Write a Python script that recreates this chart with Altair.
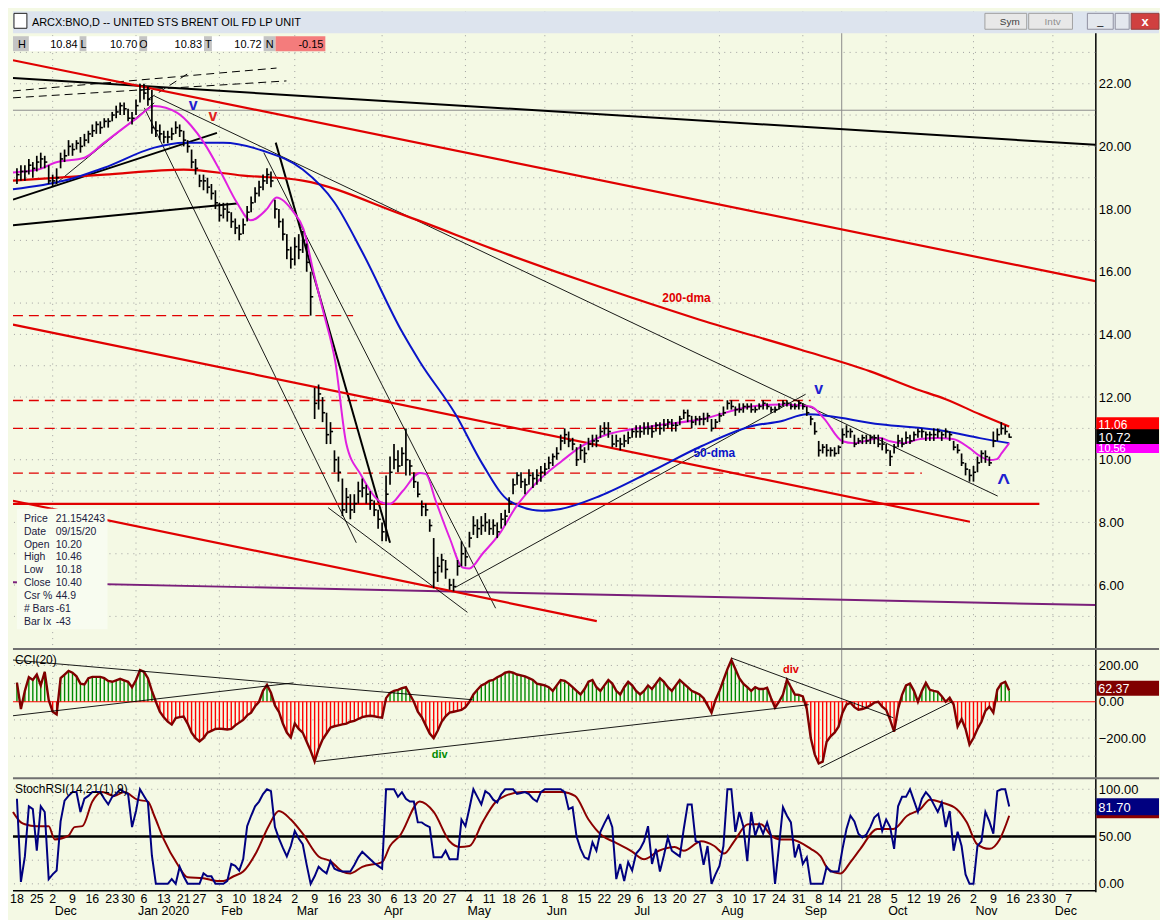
import altair as alt
import pandas as pd

FONT = "Liberation Sans"
BG = "#f4f9e4"
W = 1088
HP, HC, HS = 640, 130, 115

# trading-day index 0 = 2019-11-18 (holidays skipped)
week_labels = ["18","25","2","9","16","23","30","6","13","21","27","3","10","18","24","2","9","16","23","30",
               "6","13","20","27","4","11","18","26","1","8","15","22","29","6","13","20","27","3","10","17",
               "24","31","8","14","21","28","5","12","19","26","2","9","16","23","30","7"]
week_idx = [0,5,9,14,19,24,28,32,37,42,46,51,56,61,65,70,75,80,85,90,95,99,104,109,114,119,124,129,133,138,
            143,148,153,157,162,167,172,177,182,187,192,197,202,206,211,216,221,226,231,236,241,246,251,256,260,265]
month_labels = ["Dec","Jan 2020","Feb","Mar","Apr","May","Jun","Jul","Aug","Sep","Oct","Nov","Dec"]
month_idx = [9,30,51,70,92,113,133,155,177,198,219,241,261]

close = [
 19.1,19.2,19.2,19.4,19.3, 19.5,19.6,19.5,18.9, 18.9,19.0,19.6,19.7,20.0, 19.9,20.1,20.0,20.2,20.4,
 20.5,20.7,20.6,20.8,20.8, 21.0,21.1,21.3,21.2, 20.9,20.9,21.3,21.8, 21.7,21.5,20.6,20.5,20.4,
 20.3,20.3,20.4,20.6,20.5, 20.2,20.0,19.5,19.3, 18.9,18.9,18.7,18.5,18.2, 17.8,18.0,17.9,17.6,17.4,
 17.2,17.5,17.9,18.2,18.5, 18.7,18.9,19.1,18.9, 18.0,17.6,17.2,16.7,16.4, 16.8,16.7,17.0,16.3,15.2,
 11.8,12.1,11.5,10.8,10.9, 10.0,9.6,8.4,8.8,8.4, 8.6,9.0,9.1,8.9,8.7, 8.4,8.1,7.7,8.9,9.6,
 10.0,9.8,10.2,10.0, 9.8,9.3,8.9,8.5,8.4, 7.9,6.4,6.6,6.8,6.5, 6.0,5.95,6.6,7.0,6.9,
 7.5,7.9,7.8,7.9,8.0, 7.8,7.9,7.7,8.1,8.2, 8.6,9.2,9.5,9.3,9.2, 9.5,9.4,9.5,9.6,
 9.7,9.9,10.1,10.2,10.6, 10.8,10.6,10.5,10.0,10.3, 10.2,10.5,10.6,10.6,10.9, 11.0,10.9,10.5,10.6,10.5,
 10.6,10.7,10.9,10.9, 10.9,11.0,11.0,10.9,11.1, 11.0,11.1,11.2,11.1,11.1, 11.3,11.5,11.4,11.2,11.3,
 11.3,11.3,11.4,11.0,11.2, 11.4,11.5,11.8,11.7,11.6, 11.6,11.7,11.7,11.6,11.6, 11.7,11.8,11.7,11.6,11.6,
 11.7,11.8,11.8,11.7,11.7, 11.8,11.7,11.5,11.3,10.9, 10.3,10.4,10.3,10.3, 10.2,10.4,10.8,10.9,10.9,
 10.5,10.6,10.7,10.6,10.7, 10.7,10.5,10.5,10.3,10.1, 10.4,10.6,10.5,10.7,10.6, 10.8,10.9,10.9,10.8,10.8,
 10.8,10.9,10.8,10.9,10.8, 10.4,10.3,9.9,9.7,9.5, 9.6,9.9,10.2,10.1,9.9, 10.6,10.8,11.0,10.9,10.72,
]
high = [
 19.3,19.4,19.4,19.6,19.5, 19.7,19.8,19.7,19.4, 19.1,19.3,19.8,19.9,20.2, 20.1,20.2,20.3,20.4,20.5,
 20.7,20.8,20.8,20.9,20.9, 21.1,21.3,21.4,21.4, 21.2,21.1,21.5,22.0, 22.0,21.9,21.8,20.8,20.7,
 20.5,20.5,20.6,20.8,20.7, 20.5,20.2,19.9,19.6, 19.1,19.1,19.0,18.8,18.6, 18.2,18.2,18.2,17.9,17.7,
 17.5,17.7,18.1,18.4,18.7, 18.9,19.1,19.3,19.2, 18.3,18.0,17.7,17.2,16.8, 17.1,17.2,17.3,16.9,16.0,
 12.3,12.4,12.0,11.5,11.2, 10.3,10.1,9.4,9.1,8.9, 8.9,9.3,9.4,9.2,9.0, 8.7,8.4,8.0,9.5,10.1,
 10.5,10.3,10.4,11.0, 10.0,9.6,9.3,8.7,8.6, 8.1,7.5,6.9,7.0,6.8, 6.2,6.2,6.8,7.4,7.2,
 7.7,8.2,8.1,8.2,8.3, 8.1,8.1,8.0,8.3,8.4, 8.8,9.4,9.6,9.6,9.4, 9.7,9.6,9.7,9.8,
 9.9,10.1,10.2,10.4,10.8, 11.0,10.9,10.7,10.4,10.5, 10.4,10.7,10.8,10.8,11.1, 11.2,11.2,10.8,10.8,10.7,
 10.8,10.9,11.0,11.1, 11.1,11.2,11.2,11.1,11.2, 11.2,11.3,11.3,11.3,11.2, 11.4,11.6,11.6,11.4,11.4,
 11.4,11.5,11.5,11.3,11.3, 11.5,11.7,11.9,11.9,11.7, 11.8,11.8,11.8,11.8,11.7, 11.8,11.9,11.8,11.7,11.7,
 11.8,11.9,11.9,11.8,11.8, 11.9,11.8,11.7,11.4,11.2, 10.6,10.5,10.5,10.4, 10.4,10.46,11.0,11.1,11.0,
 10.8,10.7,10.8,10.8,10.8, 10.8,10.8,10.7,10.5,10.3, 10.5,10.8,10.7,10.9,10.8, 10.9,11.0,11.0,10.9,10.9,
 11.0,11.0,10.9,11.0,10.9, 10.6,10.5,10.2,9.9,9.7, 9.8,10.1,10.3,10.3,10.1, 10.9,11.0,11.2,11.1,10.84,
]
low = [
 18.8,18.9,18.9,19.1,19.0, 19.2,19.3,19.3,18.8, 18.7,18.8,19.3,19.5,19.7, 19.7,19.9,19.8,20.0,20.1,
 20.3,20.4,20.4,20.6,20.6, 20.8,20.9,21.0,21.0, 20.8,20.7,21.0,21.4, 21.5,21.3,20.4,20.3,20.2,
 20.1,20.1,20.2,20.4,20.3, 20.0,19.8,19.3,19.1, 18.7,18.6,18.5,18.3,18.0, 17.6,17.7,17.6,17.4,17.2,
 17.0,17.2,17.6,17.9,18.2, 18.4,18.6,18.8,18.7, 17.7,17.4,17.0,16.4,16.1, 16.2,16.4,16.6,16.0,14.6,
 11.3,11.6,11.2,10.5,10.5, 9.6,9.3,8.2,8.3,8.1, 8.3,8.6,8.8,8.6,8.4, 8.2,7.8,7.4,7.4,9.2,
 9.7,9.6,9.8,9.5, 9.5,9.1,8.8,8.2,8.2, 7.7,5.9,6.1,6.4,6.2, 5.85,5.8,6.3,6.6,6.6,
 7.2,7.6,7.5,7.6,7.7, 7.6,7.6,7.5,7.8,7.9, 8.3,8.9,9.2,9.1,8.9, 9.2,9.1,9.2,9.3,
 9.5,9.7,9.8,10.0,10.3, 10.5,10.4,10.3,9.8,10.0, 9.9,10.3,10.4,10.4,10.7, 10.8,10.7,10.4,10.4,10.3,
 10.4,10.5,10.7,10.7, 10.7,10.8,10.8,10.7,10.9, 10.8,10.9,11.0,10.9,10.9, 11.1,11.3,11.2,11.0,11.1,
 11.1,11.1,11.2,10.9,11.0, 11.2,11.4,11.6,11.6,11.4, 11.5,11.5,11.6,11.5,11.5, 11.6,11.6,11.6,11.5,11.5,
 11.6,11.7,11.7,11.6,11.6, 11.6,11.6,11.4,11.1,10.8, 10.1,10.2,10.1,10.1, 10.1,10.18,10.5,10.7,10.7,
 10.4,10.5,10.5,10.5,10.5, 10.5,10.4,10.3,10.2,9.8, 10.2,10.4,10.4,10.5,10.5, 10.6,10.7,10.7,10.6,10.6,
 10.6,10.7,10.6,10.7,10.6, 10.3,10.2,9.8,9.5,9.3, 9.3,9.6,9.9,9.9,9.8, 10.4,10.6,10.8,10.8,10.70,
]

cci = [
 105,-40,60,135,120, 150,90,165,10, -55,-70,130,150,170, 160,140,100,95,130, 137,137,137,130,115,
 110,118,126,118, 110,80,120,175, 165,130,60,0,-55, -85,-110,-126,-90,-85, -82,-120,-170,-200,
 -219,-200,-170,-160,-150, -148,-150,-153,-150,-130, -115,-100,-75,-60,-25, 0,60,93,50,
 -20,-55,-120,-170,-197, -120,-150,-170,-220,-270, -329,-260,-208,-175,-142, -135,-130,-125,-120,-110,
 -105,-95,-85,-80,-77, -80,-85,-88,20,49, 60,66,75,80, 40,0,-55,-85,-130, -175,-200,-160,-110,-80,
 -60,-55,-50,-45,-30, 0,40,66,90,100, 115,120,135,145,160, 165,160,150,145,140, 130,120,100,95,
 90,80,60,90,120, 115,100,80,60,40, 70,110,120,80,60, 90,120,100,60,40, 80,110,90,60,
 40,60,90,70,100, 130,110,80,60,90, 120,100,80,60,50, 40,20,-20,-60,10, 60,120,180,230,180,
 130,100,80,60,80, 70,70,77,20,-33, 0,40,120,80,40, 38,30,-40,-200,-290, -340,-330,-220,-190,
 -170,-137,-60,-16,-5, -30,-44,-40,-33,-20, -5,0,-27,-45,-100, -164,-40,38,90,100, 60,0,60,104,66,
 60,55,30,0,22, -16,-137,-95,-150,-236, -200,-150,-110,-50,-27, -60,66,100,110,62.37,
]

stoch_k = [
 90,2,29,82,79, 35,82,76,5, 10,14,66,88,93, 97,97,76,90,93, 97,97,97,90,84, 92,95,100,97, 95,60,77,100,
 93,86,30,0,0, 0,0,5,0,18, 8,0,0,0, 0,11,8,8,0, 0,0,3,21,19, 14,26,61,72,82, 87,95,100,98,
 60,48,38,29,40, 56,48,42,20,0, 8,18,14,11,24, 16,14,13,13,13, 20,28,34,30,26, 22,19,16,100,100,
 100,92,97,90, 87,87,65,65,62, 60,28,28,28,35, 26,26,26,68,61, 80,100,92,84,98, 95,89,86,95,100,
 100,100,95,96,97, 95,90,87,97, 100,100,100,100,100, 97,79,81,50,37, 28,26,44,35,55, 64,72,60,5,21,
 3,23,14,32, 37,45,61,21,37, 13,30,49,35,32, 29,58,84,84,45, 44,20,40,0,10, 19,40,100,100,55,
 76,61,24,76,51, 63,53,65,51,0, 40,81,72,65,28, 42,21,28,0,0, 0,0,18,13, 13,13,37,58,72,
 66,53,49,52,60, 70,74,56,68,60, 37,82,92,92,100, 88,76,90,97,92, 84,76,86,60,77, 35,55,40,10,0,
 0,40,45,76,66, 53,98,100,100,81.7,
]
stoch_d_idx = [-1,1,2,5,8,9.5,13,14.5,16.5,19,21.5,24.5,27,30.3,33,34.6,37,40.4,43,47,50.4,52,54.6,57,60.4,
               63.4,66,69,72,76,79,82,84,87,92,94,96.5,101.5,105,109,111.5,114,117.3,120.5,123,127.3,131.6,
               137.3,140.6,144,147.4,150.6,155,158,161.7,165.7,168,172.4,175.7,178.2,180.7,184.2,187.5,190,
               192.5,195,200,202.5,204.3,207.5,210,212.5,216.8,220.8,224.3,227.6,230,233,236.8,239.3,241.9,
               245,247.6,250]
stoch_d = [76,65,63,61,61,47,51,60,61,87,97,93,97,89,87,72,47,21,7,6,3,3,8,13,34,61,77,68,53,29,24,13,11,18,
           23,40,51,87,76,45,39,40,65,86,93,97,97,97,93,68,51,44,34,26,35,39,35,45,40,32,45,63,63,51,47,47,
           37,29,16,11,23,37,58,58,72,79,89,86,79,65,42,37,47,72]

ma200_idx = [-1,22,42,57,72,97,122,147,172,197.5,215,226,234,242.6,250]
ma200 = [18.91,19.10,19.26,19.07,18.91,17.83,16.63,15.51,14.47,13.51,12.82,12.28,11.93,11.45,11.06]
ma50_idx = [-1,12,22,34.6,42,52,62,72,80,87,97,101.5,110.5,117.3,124,132.3,137,147,160,172.4,185,192.5,199,
            217.5,234,242.6,250]
ma50 = [18.63,18.91,19.32,19.96,20.12,20.12,19.86,19.26,18.21,16.63,14.09,13.13,11.45,9.86,8.69,8.37,8.43,
        8.85,9.64,10.43,11.07,11.23,11.45,11.13,10.91,10.69,10.53]
ma10_idx = [-1,5.3,9.5,17,22,30.3,34.6,40.4,43.9,47.1,51.4,55.4,58.9,62.9,65.4,69.7,72.2,74.7,77.2,80.2,83,
            86.5,92.2,94,97.2,101.5,103,105.5,109,112.3,114,117.3,121.6,125.6,130.6,137.3,142.4,147.4,160,
            172.4,185,192.5,200,203.3,208,210.8,217.5,220,223.3,227.6,231.8,235.8,240,242.6,245,246.9,248.1,250]
ma10 = [19.17,19.26,19.48,19.64,20.12,20.91,21.29,21.07,20.66,20.12,19.17,18.21,17.64,17.99,18.37,17.9,17.36,
        15.99,14.72,13.13,10.5,9.55,8.62,8.59,9.0,9.58,9.55,8.69,7.51,6.56,6.53,7.0,7.64,8.47,9.23,9.96,10.44,
        10.75,11.07,11.29,11.7,11.76,11.7,11.32,10.59,10.53,10.69,10.59,10.53,10.66,10.69,10.66,10.37,10.12,
        9.99,10.02,10.21,10.53]

# trend lines: (i1, p1, i2, p2)
red_thick = [(-1, 22.75, 271.7, 15.70), (-1, 14.31, 240.1, 8.02), (-1, 8.69, 146.1, 4.85), (-1, 8.59, 257.6, 8.59)]
red_dash = [(-1, 14.6, 84.7, 14.6), (-1, 11.89, 200, 11.89), (-1, 11.0, 197.5, 11.0), (-1, 9.57, 228, 9.57)]
black_thick = [(-1, 22.18, 271.7, 20.05), (65.2, 20.12, 94, 7.35), (-1, 18.30, 50.4, 20.43), (-1, 17.48, 55.4, 18.18)]
black_thin = [(32.1, 21.23, 85.5, 7.35), (34.6, 21.61, 247.1, 8.84), (62.2, 19.8, 120.6, 5.26),
              (78.4, 8.47, 113.5, 5.13), (110.5, 5.93, 198.7, 12.09), (9.5, 18.78, 34.6, 21.39)]
black_dash = [(-1, 21.77, 65.4, 22.5), (-1, 21.55, 67.9, 22.09), (33, 21.5, 44, 22.4)]
purple_line = [(-1, 6.09, 271.7, 5.36)]
cci_lines = [(-1, 230, 114.8, 11), (-1, -77, 69.7, 104), (75.4, -329, 199.5, -16), (180, 241, 220.8, -88),
             (202.5, -362, 235.6, 0)]
cursor_price = 21.154243
cursor_idx = 207.8

XS = alt.Scale(domain=[-1.0, 271.7], nice=False, zero=False)
PS = alt.Scale(domain=[3.99, 24.31], nice=False, zero=False)
CS = alt.Scale(domain=[-416.5, 295.9], nice=False, zero=False)
SS = alt.Scale(domain=[-8.4, 112.6], nice=False, zero=False)


def yaxis(vals):
    return alt.Axis(orient="right", values=vals, format=".2f", title=None, grid=False, ticks=False,
                    domainColor="#000000", domainWidth=1.5, labelFont=FONT, labelFontSize=13,
                    labelColor="#000000", labelPadding=3)


PAX = yaxis([6, 8, 10, 12, 14, 16, 18, 20, 22])
CAX = yaxis([200, 0, -200])
SAX = yaxis([100, 50, 0])


def X(f):
    return alt.X(f, type="quantitative", scale=XS, axis=None)


def PY(f):
    return alt.Y(f, type="quantitative", scale=PS, axis=PAX)


def CY(f):
    return alt.Y(f, type="quantitative", scale=CS, axis=CAX)


def SY(f):
    return alt.Y(f, type="quantitative", scale=SS, axis=SAX)


one = pd.DataFrame({"a": [0]})


def box(x, y, w, h, fill, stroke=None):
    kw = {"fill": fill}
    if stroke:
        kw["stroke"] = stroke
        kw["strokeWidth"] = 1
    return alt.Chart(one).mark_rect(**kw).encode(x=alt.value(x), x2=alt.value(x + w), y=alt.value(y),
                                                  y2=alt.value(y + h))


def txt(x, y, s, size=12, color="#000000", align="left", weight="normal"):
    return alt.Chart(one).mark_text(text=s, fontSize=size, color=color, align=align, fontWeight=weight,
                                    baseline="alphabetic", font=FONT).encode(x=alt.value(x), y=alt.value(y))


def segs(rows, yfun, **mk):
    df = pd.DataFrame(rows, columns=["i1", "v1", "i2", "v2"])
    return alt.Chart(df).mark_rule(clip=True, **mk).encode(x=X("i1"), x2="i2", y=yfun("v1"), y2="v2")


def hgrid(vals, yfun):
    return alt.Chart(pd.DataFrame({"g": vals})).mark_rule(color="#a0a0a0", strokeDash=[1, 5],
                                                          strokeWidth=1).encode(y=yfun("g"))


def vgrid():
    return alt.Chart(pd.DataFrame({"i": month_idx})).mark_rule(color="#a0a0a0", strokeDash=[1, 5],
                                                               strokeWidth=1).encode(x=X("i"))


def cursor_v():
    return alt.Chart(pd.DataFrame({"i": [cursor_idx]})).mark_rule(color="#8a8a8a", strokeWidth=1).encode(x=X("i"))


# ---------------- price panel ----------------
bars = pd.DataFrame({"i": list(range(len(close))), "hi": high, "lo": low, "cl": close})
bars["i2"] = bars["i"] + 0.65

p_layers = [
    hgrid(list(range(5, 24)), PY),
    vgrid(),
    cursor_v(),
    alt.Chart(pd.DataFrame({"p": [cursor_price]})).mark_rule(color="#8a8a8a", strokeWidth=1).encode(y=PY("p")),
    segs(purple_line, PY, color="#7a1f7a", strokeWidth=2),
    segs(red_dash, PY, color="#e00000", strokeWidth=1.3, strokeDash=[10, 6]),
    segs(black_dash, PY, color="#000000", strokeWidth=1, strokeDash=[8, 5]),
    segs(black_thin, PY, color="#000000", strokeWidth=0.9),
    segs(black_thick, PY, color="#000000", strokeWidth=2),
    segs(red_thick, PY, color="#e00000", strokeWidth=2.2),
    alt.Chart(pd.DataFrame({"i": ma200_idx, "v": ma200})).mark_line(color="#e00000", strokeWidth=2.2,
                                                                    interpolate="monotone").encode(x=X("i"), y=PY("v")),
    alt.Chart(pd.DataFrame({"i": ma50_idx, "v": ma50})).mark_line(color="#0a14c8", strokeWidth=2,
                                                                  interpolate="monotone").encode(x=X("i"), y=PY("v")),
    alt.Chart(pd.DataFrame({"i": ma10_idx, "v": ma10})).mark_line(color="#e020e0", strokeWidth=2,
                                                                  interpolate="monotone").encode(x=X("i"), y=PY("v")),
    alt.Chart(bars).mark_rule(color="#000000", strokeWidth=1.7).encode(x=X("i"), y=PY("lo"), y2="hi"),
    alt.Chart(bars).mark_rule(color="#000000", strokeWidth=1.6).encode(x=X("i"), x2="i2", y=PY("cl")),
]
ann = pd.DataFrame({"i": [44.4, 49.4, 202], "p": [21.32, 20.97, 12.27],
                    "t": ["v", "v", "v"], "c": ["#2020d0", "#e02020", "#2020d0"]})
p_layers.append(alt.Chart(ann).mark_text(fontSize=16, fontWeight="bold", font=FONT, baseline="middle").encode(
    x=X("i"), y=PY("p"), text="t:N", color=alt.Color("c:N", scale=None)))
caret = pd.DataFrame({"i": [248.6], "p": [9.04], "t": ["^"]})
p_layers.append(alt.Chart(caret).mark_text(fontSize=22, fontWeight="bold", font=FONT, baseline="alphabetic",
                                           color="#2020d0").encode(x=X("i"), y=PY("p"), text="t:N"))
lab = pd.DataFrame({"i": [168.7, 175.7], "p": [15.16, 10.21], "t": ["200-dma", "50-dma"], "c": ["#e00000", "#0a14c8"]})
p_layers.append(alt.Chart(lab).mark_text(fontSize=12, fontWeight="bold", font=FONT, baseline="middle").encode(
    x=X("i"), y=PY("p"), text="t:N", color=alt.Color("c:N", scale=None)))

# window title bar and info row (chrome)
chrome = [
    box(0, 0, 1152, 22, "#dde4ee"),
    box(1, 2, 13, 15, "#ffffff", "#202020"),
    txt(19, 15, "ARCX:BNO,D -- UNITED STS BRENT OIL FD LP UNIT", 11),
    box(977, 2, 42, 16, "#e8e8e8", "#a0a0a0"), txt(992, 14, "Sym", 10, "#404040"),
    box(1021, 2, 44, 16, "#e8e8e8", "#a0a0a0"), txt(1037, 14, "Intv", 10, "#909090"),
    box(1080, 2, 26, 16, "#e4e8ee", "#9090a0"), txt(1093, 14, "_", 11, "#000000", "center"),
    box(1108, 2, 14, 16, "#e4e8ee", "#9090a0"),
    box(1124, 2, 28, 16, "#d04040", "#904040"), txt(1138, 15, "x", 13, "#ffffff", "center", "bold"),
    box(0, 25, 16, 15, "#c4c4c4"), txt(5, 37, "H", 11),
    box(16, 25, 51, 15, "#ffffff"), txt(65, 37, "10.84", 11, align="right"),
    box(67, 25, 7, 15, "#c4c4c4"), txt(68, 37, "L", 11),
    box(74, 25, 53, 15, "#ffffff"), txt(125, 37, "10.70", 11, align="right"),
    box(127, 25, 8, 15, "#c4c4c4"), txt(127, 37, "O", 11),
    box(135, 25, 57, 15, "#ffffff"), txt(190, 37, "10.83", 11, align="right"),
    box(192, 25, 8, 15, "#c4c4c4"), txt(193, 37, "T", 11),
    box(200, 25, 52, 15, "#ffffff"), txt(250, 37, "10.72", 11, align="right"),
    box(252, 25, 12, 15, "#c4c4c4"), txt(254, 37, "N", 11),
    box(264, 25, 50, 15, "#f47c7c"), txt(312, 37, "-0.15", 11, align="right"),
]
p_layers += chrome

# data window box
dw_labels = ["Price", "Date", "Open", "High", "Low", "Close", "Csr %", "# Bars", "Bar Ix"]
dw_values = ["21.154243", "09/15/20", "10.20", "10.46", "10.18", "10.40", "44.9", "-61", "-43"]
p_layers.append(box(4, 500, 91, 121, "#f8fcf0"))
for k, (a, b) in enumerate(zip(dw_labels, dw_values)):
    p_layers.append(txt(11, 513 + 13 * k, a, 10.5, "#202040"))
    p_layers.append(txt(43, 513 + 13 * k, b, 10.5, "#202040"))

# right value boxes (stacked, partly covering each other as in the source)
p_layers += [
    box(1089, 408, 63, 13, "#ff0000"), txt(1091, 420, "11.06", 12, "#ffffff"),
    box(1089, 433, 63, 11, "#ff00ff"), txt(1091, 443, "10.56", 11, "#ffffff"),
    box(1089, 420, 63, 15, "#000000"), txt(1091, 432.5, "10.72", 13, "#ffffff"),
]
price = alt.layer(*p_layers).properties(width=W, height=HP)

# ---------------- CCI panel ----------------
cdf = pd.DataFrame({"i": list(range(len(cci))), "c": cci})
c_layers = [
    hgrid([200, 100, -100, -200, -300], CY),
    vgrid(),
    cursor_v(),
    alt.Chart(cdf).mark_rule(strokeWidth=1.4).encode(
        x=X("i"), y=CY("c"), y2=alt.datum(0),
        color=alt.condition("datum.c >= 0", alt.value("#008a00"), alt.value("#ff0000"))),
    alt.Chart(pd.DataFrame({"z": [0]})).mark_rule(color="#ff0000", strokeWidth=1).encode(y=CY("z")),
    alt.Chart(cdf).mark_line(color="#800000", strokeWidth=2.4).encode(x=X("i"), y=CY("c")),
    segs(cci_lines, CY, color="#000000", strokeWidth=0.9),
    alt.Chart(pd.DataFrame({"i": [106.5, 195], "v": [-296, 175], "t": ["div", "div"], "c": ["#008a00", "#e00000"]}))
      .mark_text(fontSize=11, fontWeight="bold", font=FONT, baseline="middle")
      .encode(x=X("i"), y=CY("v"), text="t:N", color=alt.Color("c:N", scale=None)),
    txt(2, 16, "CCI(20)", 12, "#000000"),
    box(1089, 33, 63, 15, "#800000"), txt(1091, 45, "62.37", 12.5, "#ffffff"),
]
sep = alt.Chart(one).mark_rule(color="#707070", strokeWidth=2).encode(x=alt.value(0), x2=alt.value(1152), y=alt.value(1))
c_layers.append(sep)
cci_panel = alt.layer(*c_layers).properties(width=W, height=HC)

# ---------------- StochRSI panel ----------------
sk = pd.DataFrame({"i": list(range(len(stoch_k))), "v": stoch_k})
sd = pd.DataFrame({"i": stoch_d_idx, "v": stoch_d})
s_layers = [
    hgrid([0, 25, 75, 100], SY),
    vgrid(),
    cursor_v(),
    alt.Chart(pd.DataFrame({"z": [50]})).mark_rule(color="#000000", strokeWidth=2.5).encode(y=SY("z")),
    alt.Chart(sd).mark_line(color="#8b0000", strokeWidth=2, interpolate="monotone").encode(x=X("i"), y=SY("v")),
    alt.Chart(sk).mark_line(color="#000080", strokeWidth=2).encode(x=X("i"), y=SY("v")),
    txt(2, 16, "StochRSI(14,21(1),9)", 12, "#000000"),
    box(1089, 24, 63, 17, "#8b0000"),
    box(1089, 21, 63, 17, "#000080"), txt(1091, 35, "81.70", 13, "#ffffff"),
    sep,
    alt.Chart(one).mark_rule(color="#000000", strokeWidth=1.5).encode(
        x=alt.value(0), x2=alt.value(1088), y=alt.value(HS - 1)),
    alt.Chart(pd.DataFrame({"i": week_idx, "t": week_labels})).mark_text(
        fontSize=12.5, font=FONT, align="center", baseline="alphabetic", color="#000000").encode(
        x=X("i"), y=alt.value(126), text="t:N"),
    alt.Chart(pd.DataFrame({"i": month_idx, "t": month_labels})).mark_text(
        fontSize=12.5, font=FONT, align="left", baseline="alphabetic", color="#000000", dx=2).encode(
        x=X("i"), y=alt.value(138), text="t:N"),
]
sto_panel = alt.layer(*s_layers).properties(width=W, height=HS)

chart = alt.vconcat(price, cci_panel, sto_panel, spacing=0, bounds="flush").properties(
    padding=0, background=BG).configure_view(strokeWidth=0)
chart.save("out.html", embed_options={"renderer": "svg", "actions": False})
